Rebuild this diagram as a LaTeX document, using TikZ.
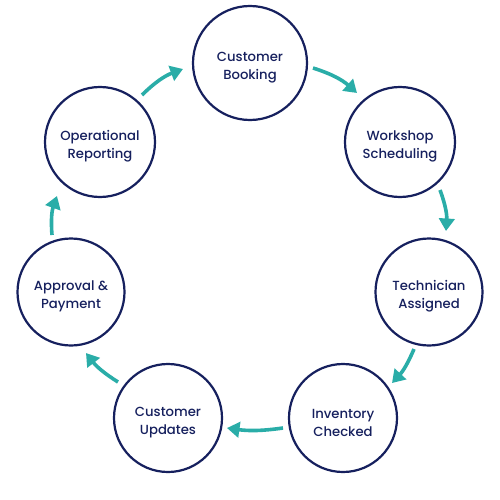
\documentclass[tikz,border=0pt]{standalone}
\usepackage{fontspec}
\setmainfont{Poppins}[UprightFont=* Medium]
\usetikzlibrary{arrows.meta}
\definecolor{navy}{HTML}{16205E}
\definecolor{teal}{HTML}{2AADA8}
\begin{document}
\begin{tikzpicture}[x=1pt,y=-1pt,
  stage/.style={circle,draw=navy,line width=2.2pt,minimum size=110pt,inner sep=0pt},
  txt/.style={text=navy,font=\fontsize{13.2}{18}\selectfont,align=center,yshift=-4.5pt},
  flow/.style={draw=teal,line width=3.6pt,-{Triangle[length=12.5pt,width=15.5pt]}}]
\useasboundingbox[fill=white] (0,0) rectangle (500,500);
\node[stage,minimum size=114pt,label={[txt]center:Customer\\Booking}] (booking) at (250,63) {};
\node[stage,label={[txt]center:Workshop\\Scheduling}] (workshop) at (400,142) {};
\node[stage,minimum size=107pt,label={[txt]center:Technician\\Assigned}] (tech) at (429,292) {};
\node[stage,minimum size=108pt,label={[txt]center:Inventory\\Checked}] (inv) at (343,418) {};
\node[stage,minimum size=108pt,label={[txt]center:Customer\\Updates}] (upd) at (168,418) {};
\node[stage,minimum size=107pt,label={[txt]center:Approval \&\\Payment}] (appr) at (71,292) {};
\node[stage,label={[txt]center:Operational\\Reporting}] (rep) at (100,142) {};
\coordinate (a1) at (313,68);  \coordinate (b1) at (357,93);
\coordinate (a2) at (440,190); \coordinate (b2) at (446,231);
\coordinate (a3) at (414,349); \coordinate (b3) at (392,383);
\coordinate (a4) at (283,428); \coordinate (b4) at (227,428);
\coordinate (a5) at (118,382); \coordinate (b5) at (86,353);
\coordinate (a6) at (52,235);  \coordinate (b6) at (57,196);
\coordinate (a7) at (142,95);  \coordinate (b7) at (183,69);
\draw[flow] (a1) to[bend left=12] (b1);
\draw[flow] (a2) to[bend left=12] (b2);
\draw[flow] (a3) to[bend left=10] (b3);
\draw[flow] (a4) to[bend left=8] (b4);
\draw[flow] (a5) to[bend left=10] (b5);
\draw[flow] (a6) to[bend left=12] (b6);
\draw[flow] (a7) to[bend left=12] (b7);
\end{tikzpicture}
\end{document}
